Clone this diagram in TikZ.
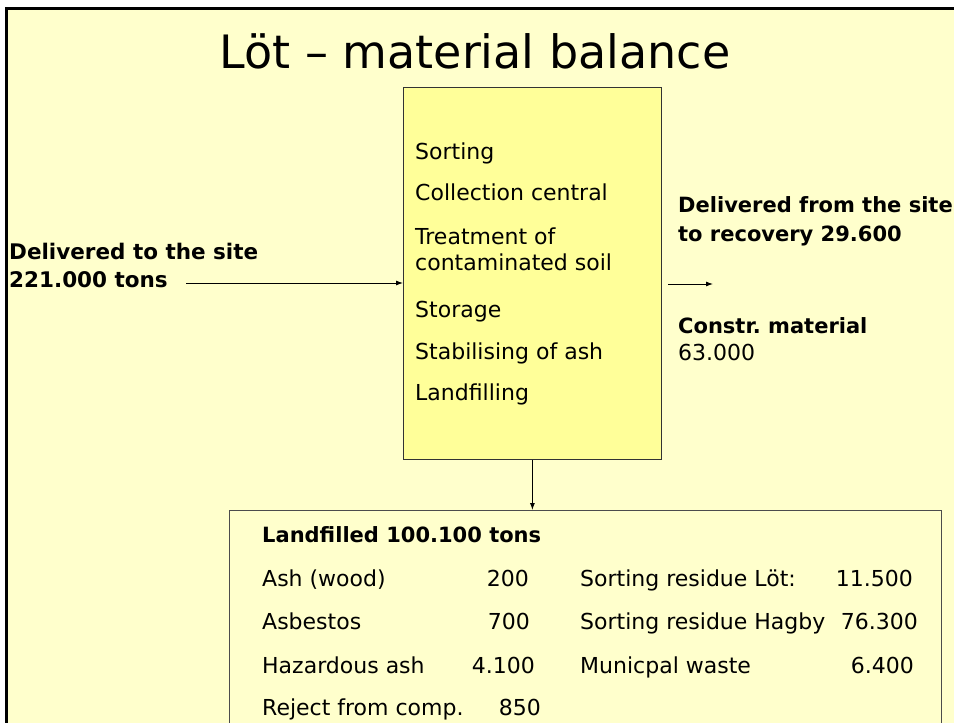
\documentclass[tikz,border=0pt]{standalone}
\usepackage{fontspec}
\setmainfont{DejaVu Sans}
\usetikzlibrary{arrows.meta}
\definecolor{bgyellow}{HTML}{FFFFCC}
\definecolor{boxyellow}{HTML}{FFFF99}
\frenchspacing
\begin{document}
\begin{tikzpicture}[x=1pt,y=-1pt,
  txt/.style={inner sep=0pt, anchor=base west, font=\fontsize{22}{26}\selectfont},
  btxt/.style={inner sep=0pt, anchor=base west, font=\fontsize{21.5}{25}\selectfont\bfseries},
  num/.style={inner sep=0pt, anchor=base east, font=\fontsize{22}{26}\selectfont},
  flow/.style={draw=black, line width=0.9pt, -{Latex[length=7pt,width=5pt]}}]
\useasboundingbox (0,0) rectangle (954,723);
\clip (0,0) rectangle (954,723);
\fill[white] (0,0) rectangle (954,723);
\fill[bgyellow] (5,6.5) rectangle (960,730);
\draw[line width=3pt, line join=miter] (6.5,730) -- (6.5,8) -- (960,8);

\node[font=\fontsize{46}{50}\selectfont, inner sep=0pt] (title) at (475,51) {Löt – material balance};

% process box
\node[draw=black!80, fill=boxyellow, line width=0.8pt, minimum width=258, minimum height=372,
      inner sep=0pt, anchor=north west] (proc) at (403,87) {};
\node[txt] (p1) at (415,159) {Sorting};
\node[txt] (p2) at (415,200) {Collection central};
\node[txt] (p3) at (415,244) {Treatment of};
\node[txt] (p4) at (415,270) {contaminated soil};
\node[txt] (p5) at (415,317) {Storage};
\node[txt] (p6) at (415,359) {Stabilising of ash};
\node[txt] (p7) at (415,400) {Landfilling};

% input
\node[btxt] (in1) at (9,259) {Delivered to the site};
\node[btxt] (in2) at (9,287) {221.000 tons};
\coordinate (inStart) at (186,283);
\draw[flow] (inStart) -- (inStart -| proc.west);

% outputs
\node[btxt, font=\fontsize{21}{25}\selectfont\bfseries] (out1) at (678,212) {Delivered from the site};
\node[btxt, font=\fontsize{21}{25}\selectfont\bfseries] (out2) at (678,241) {to recovery 29.600};
\coordinate (outStart) at (668,284);
\coordinate (outEnd) at (713,284);
\draw[flow] (outStart) -- (outEnd);
\node[btxt, font=\fontsize{21}{25}\selectfont\bfseries] (out3) at (678,333) {Constr. material};
\node[txt] (out4) at (678,360) {63.000};

% landfill box
\node[draw=black!70, line width=0.8pt, minimum width=712, minimum height=300,
      inner sep=0pt, anchor=north west] (land) at (229,510) {};
\draw[flow] (proc.south) -- (proc.south |- land.north);

\node[btxt, font=\fontsize{21}{25}\selectfont\bfseries] (lhead) at (262,542) {Landfilled 100.100 tons};
\node[txt] (a1) at (262,586) {Ash (wood)};
\node[num] (a1n) at (529,586) {200};
\node[txt] (a2) at (262,629) {Asbestos};
\node[num] (a2n) at (530,629) {700};
\node[txt] (a3) at (262,673) {Hazardous ash};
\node[num] (a3n) at (535,673) {4.100};
\node[txt] (a4) at (262,715) {Reject from comp.};
\node[num] (a4n) at (541,715) {850};
\node[txt] (b1) at (580,586) {Sorting residue Löt:};
\node[num] (b1n) at (913,586) {11.500};
\node[txt] (b2) at (580,629) {Sorting residue Hagby};
\node[num] (b2n) at (918,629) {76.300};
\node[txt] (b3) at (580,673) {Municpal waste};
\node[num] (b3n) at (914,673) {6.400};
\end{tikzpicture}
\end{document}
